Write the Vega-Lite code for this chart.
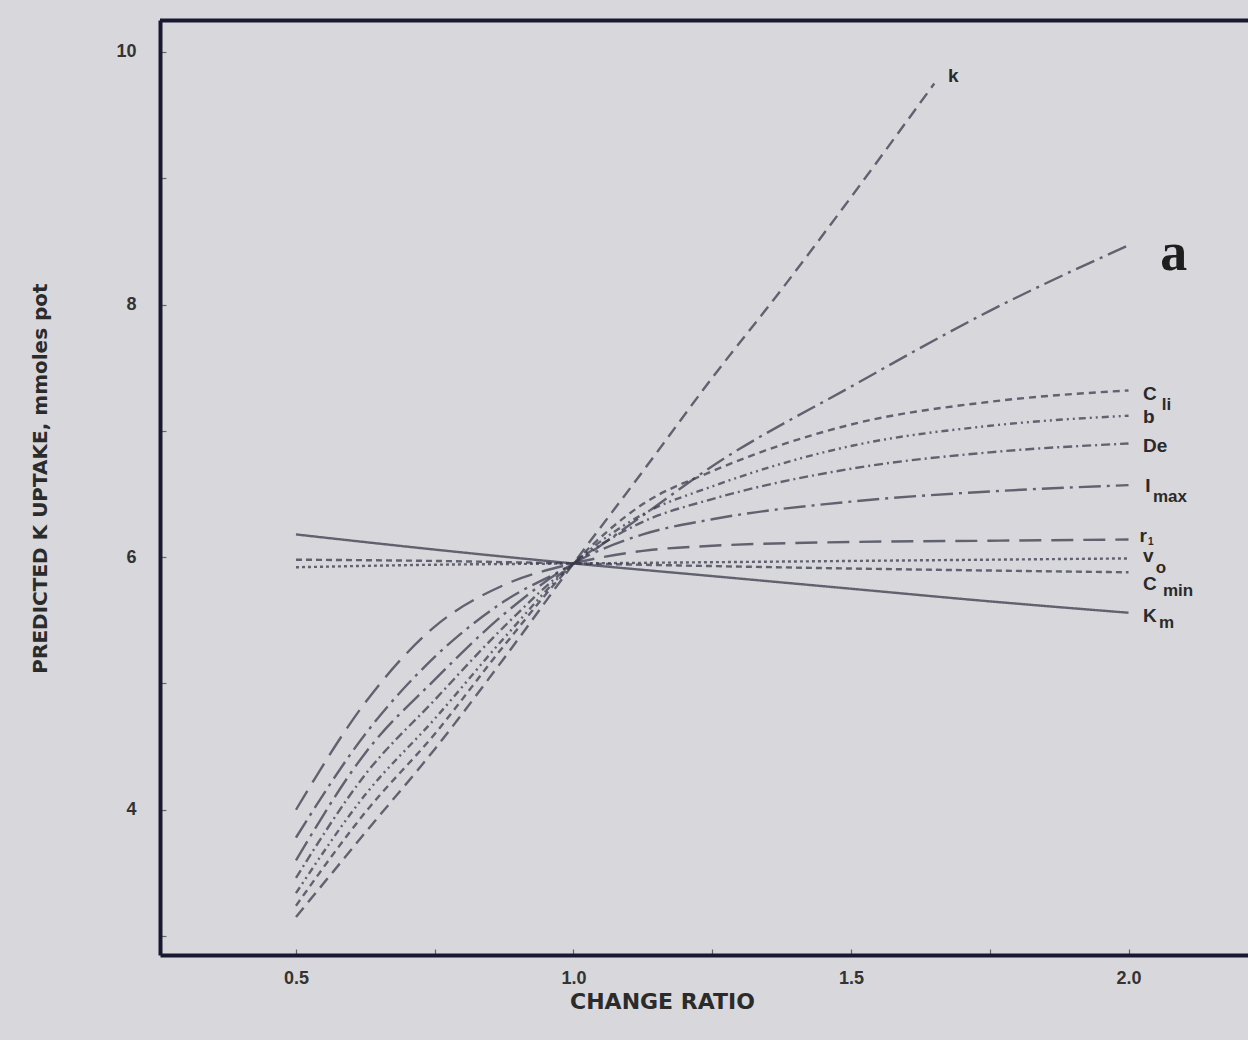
{
  "$schema": "https://vega.github.io/schema/vega-lite/v6.json",
  "width": 1088,
  "height": 935,
  "autosize": {"type": "none"},
  "padding": {"left": 160, "top": 20, "right": 0, "bottom": 85},
  "background": "#d8d8dc",
  "config": {"view": {"stroke": null}, "font": "Liberation Sans"},
  "datasets": {
    "curves": [
      {"s": "k", "x": 0.5, "y": 3.15}, {"s": "k", "x": 0.625, "y": 3.82}, {"s": "k", "x": 0.75, "y": 4.48}, {"s": "k", "x": 0.875, "y": 5.2}, {"s": "k", "x": 1.0, "y": 5.95}, {"s": "k", "x": 1.125, "y": 6.68}, {"s": "k", "x": 1.25, "y": 7.42}, {"s": "k", "x": 1.375, "y": 8.12}, {"s": "k", "x": 1.5, "y": 8.85}, {"s": "k", "x": 1.65, "y": 9.75},
      {"s": "a", "x": 0.5, "y": 3.78}, {"s": "a", "x": 0.625, "y": 4.6}, {"s": "a", "x": 0.75, "y": 5.21}, {"s": "a", "x": 0.875, "y": 5.65}, {"s": "a", "x": 1.0, "y": 5.95}, {"s": "a", "x": 1.125, "y": 6.33}, {"s": "a", "x": 1.25, "y": 6.72}, {"s": "a", "x": 1.5, "y": 7.35}, {"s": "a", "x": 1.75, "y": 7.95}, {"s": "a", "x": 2.0, "y": 8.47},
      {"s": "Cli", "x": 0.5, "y": 3.24}, {"s": "Cli", "x": 0.625, "y": 3.98}, {"s": "Cli", "x": 0.75, "y": 4.6}, {"s": "Cli", "x": 0.875, "y": 5.3}, {"s": "Cli", "x": 1.0, "y": 5.95}, {"s": "Cli", "x": 1.125, "y": 6.42}, {"s": "Cli", "x": 1.25, "y": 6.68}, {"s": "Cli", "x": 1.5, "y": 7.05}, {"s": "Cli", "x": 1.75, "y": 7.23}, {"s": "Cli", "x": 2.0, "y": 7.32},
      {"s": "b", "x": 0.5, "y": 3.34}, {"s": "b", "x": 0.625, "y": 4.12}, {"s": "b", "x": 0.75, "y": 4.72}, {"s": "b", "x": 0.875, "y": 5.36}, {"s": "b", "x": 1.0, "y": 5.95}, {"s": "b", "x": 1.125, "y": 6.34}, {"s": "b", "x": 1.25, "y": 6.56}, {"s": "b", "x": 1.5, "y": 6.88}, {"s": "b", "x": 1.75, "y": 7.04}, {"s": "b", "x": 2.0, "y": 7.12},
      {"s": "De", "x": 0.5, "y": 3.46}, {"s": "De", "x": 0.625, "y": 4.28}, {"s": "De", "x": 0.75, "y": 4.87}, {"s": "De", "x": 0.875, "y": 5.45}, {"s": "De", "x": 1.0, "y": 5.95}, {"s": "De", "x": 1.125, "y": 6.28}, {"s": "De", "x": 1.25, "y": 6.46}, {"s": "De", "x": 1.5, "y": 6.7}, {"s": "De", "x": 1.75, "y": 6.83}, {"s": "De", "x": 2.0, "y": 6.9},
      {"s": "Imax", "x": 0.5, "y": 3.6}, {"s": "Imax", "x": 0.625, "y": 4.45}, {"s": "Imax", "x": 0.75, "y": 5.03}, {"s": "Imax", "x": 0.875, "y": 5.55}, {"s": "Imax", "x": 1.0, "y": 5.95}, {"s": "Imax", "x": 1.125, "y": 6.18}, {"s": "Imax", "x": 1.25, "y": 6.3}, {"s": "Imax", "x": 1.5, "y": 6.44}, {"s": "Imax", "x": 1.75, "y": 6.52}, {"s": "Imax", "x": 2.0, "y": 6.57},
      {"s": "r1", "x": 0.5, "y": 4.0}, {"s": "r1", "x": 0.625, "y": 4.85}, {"s": "r1", "x": 0.75, "y": 5.45}, {"s": "r1", "x": 0.875, "y": 5.78}, {"s": "r1", "x": 1.0, "y": 5.95}, {"s": "r1", "x": 1.125, "y": 6.05}, {"s": "r1", "x": 1.25, "y": 6.09}, {"s": "r1", "x": 1.5, "y": 6.12}, {"s": "r1", "x": 1.75, "y": 6.13}, {"s": "r1", "x": 2.0, "y": 6.14},
      {"s": "v0", "x": 0.5, "y": 5.92}, {"s": "v0", "x": 0.75, "y": 5.94}, {"s": "v0", "x": 1.0, "y": 5.95}, {"s": "v0", "x": 1.5, "y": 5.97}, {"s": "v0", "x": 2.0, "y": 5.99},
      {"s": "Cmin", "x": 0.5, "y": 5.98}, {"s": "Cmin", "x": 0.75, "y": 5.97}, {"s": "Cmin", "x": 1.0, "y": 5.95}, {"s": "Cmin", "x": 1.5, "y": 5.91}, {"s": "Cmin", "x": 2.0, "y": 5.88},
      {"s": "Km", "x": 0.5, "y": 6.18}, {"s": "Km", "x": 0.75, "y": 6.06}, {"s": "Km", "x": 1.0, "y": 5.95}, {"s": "Km", "x": 1.25, "y": 5.85}, {"s": "Km", "x": 1.5, "y": 5.75}, {"s": "Km", "x": 1.75, "y": 5.65}, {"s": "Km", "x": 2.0, "y": 5.56}
    ],
    "labels": [
      {"t": "k", "p": "main", "x": 1.675, "y": 9.762},
      {"t": "C", "p": "main", "x": 2.026, "y": 7.245},
      {"t": "li", "p": "sub", "x": 2.06, "y": 7.165},
      {"t": "b", "p": "main", "x": 2.026, "y": 7.063},
      {"t": "De", "p": "main", "x": 2.026, "y": 6.833},
      {"t": "I", "p": "main", "x": 2.03, "y": 6.516},
      {"t": "max", "p": "sub", "x": 2.044, "y": 6.437},
      {"t": "r", "p": "main", "x": 2.02, "y": 6.12},
      {"t": "1", "p": "tiny", "x": 2.035, "y": 6.097},
      {"t": "v", "p": "main", "x": 2.026, "y": 5.96},
      {"t": "o", "p": "sub", "x": 2.049, "y": 5.875},
      {"t": "C", "p": "main", "x": 2.026, "y": 5.74},
      {"t": "min", "p": "sub", "x": 2.062, "y": 5.693},
      {"t": "K", "p": "main", "x": 2.026, "y": 5.487},
      {"t": "m", "p": "sub", "x": 2.055, "y": 5.44},
      {"t": "a", "p": "panel", "x": 2.057, "y": 8.274}
    ],
    "frame": [{"top": 10.25}]
  },
  "layer": [
    {
      "data": {"name": "curves"},
      "mark": {"type": "line", "interpolate": "monotone", "stroke": "#3a3a4c", "strokeWidth": 2.4, "opacity": 0.75},
      "encoding": {
        "x": {
          "field": "x", "type": "quantitative",
          "scale": {"domain": [0.255, 2.2153], "nice": false, "zero": false},
          "axis": {
            "title": "CHANGE RATIO",
            "values": [0.5, 0.75, 1.0, 1.25, 1.5, 1.75, 2.0],
            "labelExpr": "(datum.value * 2) % 1 == 0 ? format(datum.value, '.1f') : ''",
            "grid": false,
            "domainWidth": 4, "domainColor": "#181830",
            "tickSize": -6, "tickColor": "#666", "tickWidth": 1.2,
            "labelFontSize": 18, "labelFontWeight": "bold", "labelColor": "#333333", "labelPadding": 20,
            "titleFont": "DejaVu Sans", "titleFontSize": 22, "titleFontWeight": "bold", "titleColor": "#2b2b2b",
            "titleX": 502, "titleY": 46, "titleAlign": "center", "titleBaseline": "middle"
          }
        },
        "y": {
          "field": "y", "type": "quantitative",
          "scale": {"domain": [2.85, 10.253], "nice": false, "zero": false},
          "axis": {
            "title": "PREDICTED K UPTAKE, mmoles pot",
            "values": [3, 4, 5, 6, 7, 8, 9, 10],
            "labelExpr": "datum.value % 2 == 0 ? format(datum.value, 'd') : ''",
            "grid": false,
            "domainWidth": 4, "domainColor": "#181830",
            "tickSize": -6, "tickColor": "#666", "tickWidth": 1.2,
            "labelFontSize": 18, "labelFontWeight": "bold", "labelColor": "#333333", "labelPadding": 30,
            "titleFont": "DejaVu Sans", "titleFontSize": 20, "titleFontWeight": "bold", "titleColor": "#2b2b2b",
            "titleX": -120, "titleY": 458, "titleAngle": -90, "titleAlign": "center", "titleBaseline": "middle"
          }
        },
        "strokeDash": {
          "field": "s", "type": "nominal", "legend": null,
          "scale": {
            "domain": ["k", "a", "Cli", "b", "De", "Imax", "r1", "v0", "Cmin", "Km"],
            "range": [[12, 7], [20, 6, 3, 6], [7, 5], [7, 4, 2, 4, 2, 4], [9, 4, 2, 4], [22, 6, 3, 6], [22, 10], [3, 3], [6, 4], [1, 0]]
          }
        }
      }
    },
    {
      "data": {"name": "frame"},
      "mark": {"type": "rule", "strokeWidth": 4, "color": "#181830"},
      "encoding": {"y": {"field": "top", "type": "quantitative"}}
    },
    {
      "data": {"name": "labels"},
      "transform": [{"filter": "datum.p == 'main'"}],
      "mark": {"type": "text", "align": "left", "baseline": "alphabetic", "fontSize": 19, "fontWeight": "bold", "color": "#2a2a2a"},
      "encoding": {"x": {"field": "x", "type": "quantitative"}, "y": {"field": "y", "type": "quantitative"}, "text": {"field": "t"}}
    },
    {
      "data": {"name": "labels"},
      "transform": [{"filter": "datum.p == 'sub'"}],
      "mark": {"type": "text", "align": "left", "baseline": "alphabetic", "fontSize": 17, "fontWeight": "bold", "color": "#2a2a2a"},
      "encoding": {"x": {"field": "x", "type": "quantitative"}, "y": {"field": "y", "type": "quantitative"}, "text": {"field": "t"}}
    },
    {
      "data": {"name": "labels"},
      "transform": [{"filter": "datum.p == 'tiny'"}],
      "mark": {"type": "text", "align": "left", "baseline": "alphabetic", "fontSize": 10, "fontWeight": "bold", "color": "#2a2a2a"},
      "encoding": {"x": {"field": "x", "type": "quantitative"}, "y": {"field": "y", "type": "quantitative"}, "text": {"field": "t"}}
    },
    {
      "data": {"name": "labels"},
      "transform": [{"filter": "datum.p == 'panel'"}],
      "mark": {"type": "text", "align": "left", "baseline": "alphabetic", "fontSize": 54, "fontWeight": "bold", "font": "Liberation Serif", "color": "#1e1e1e"},
      "encoding": {"x": {"field": "x", "type": "quantitative"}, "y": {"field": "y", "type": "quantitative"}, "text": {"field": "t"}}
    }
  ]
}
